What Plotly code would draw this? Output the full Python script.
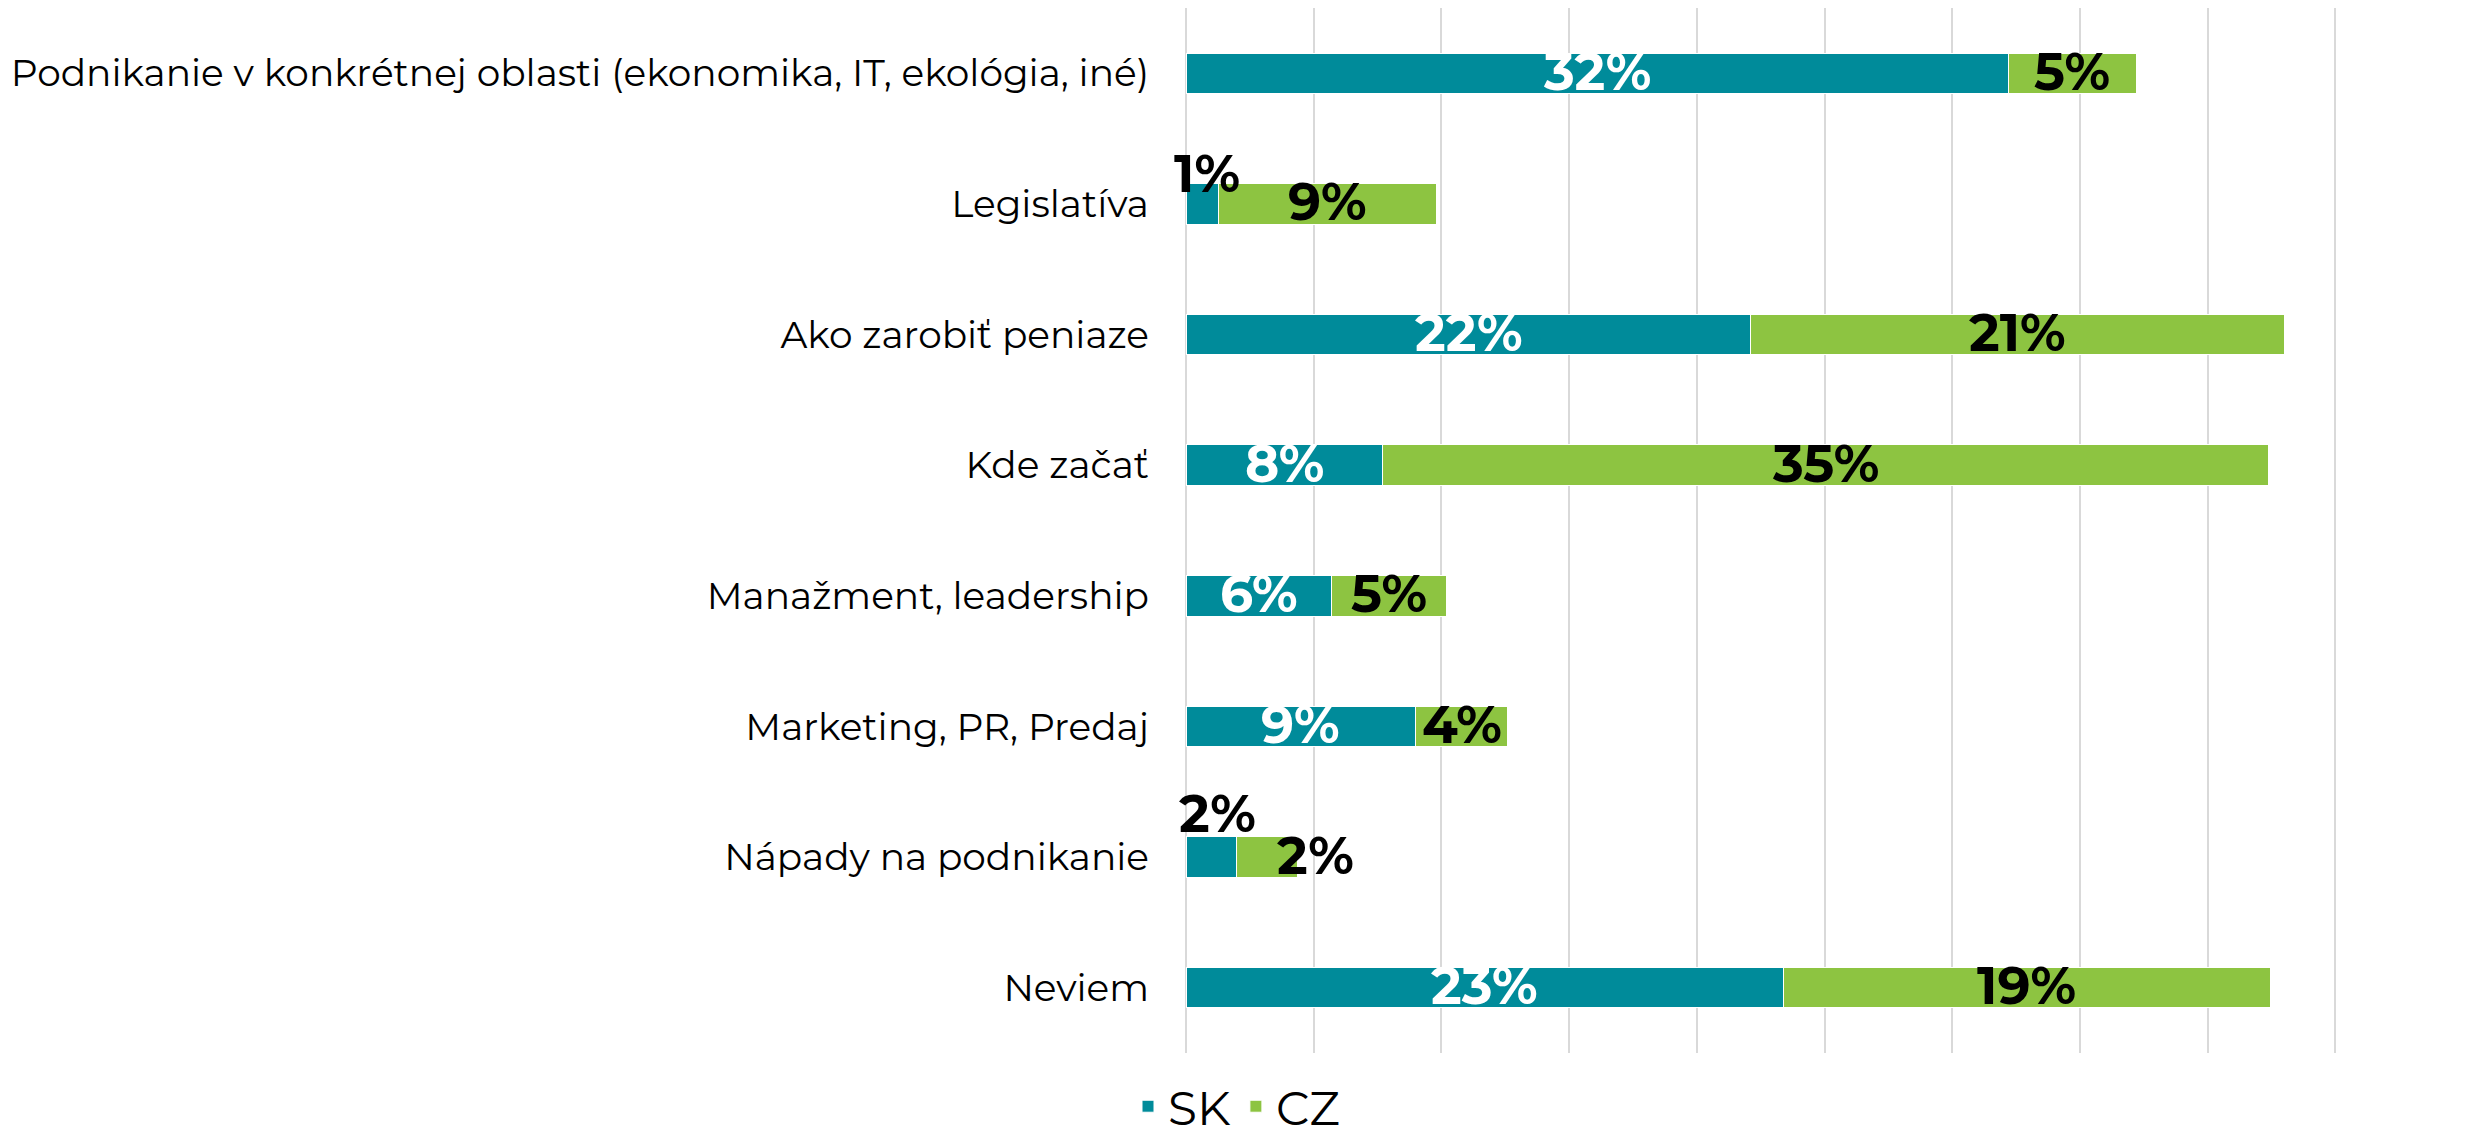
import plotly.graph_objects as go

categories = [
    "Podnikanie v konkrétnej oblasti (ekonomika, IT, ekológia, iné)",
    "Legislatíva",
    "Ako zarobiť peniaze",
    "Kde začať",
    "Manažment, leadership",
    "Marketing, PR, Predaj",
    "Nápady na podnikanie",
    "Neviem",
]
sk_values = [32.2, 1.26, 22.1, 7.7, 5.7, 9.0, 1.96, 23.4]
cz_values = [5.02, 8.53, 20.9, 34.7, 4.51, 3.6, 2.4, 19.05]

SK_COLOR = "#008B9A"
CZ_COLOR = "#8DC441"
FONT = "Montserrat, Inter, sans-serif"

# labels that sit off-centre in the original (xshift, yshift in px)
label_offsets = {
    ("SK", 1): (5, 28),
    ("SK", 6): (6, 42),
    ("CZ", 6): (49, 0),
}

fig = go.Figure()
fig.add_trace(
    go.Bar(
        y=categories,
        x=sk_values,
        name="SK",
        orientation="h",
        marker_color=SK_COLOR,
        marker_line={"color": "white", "width": 1},
    )
)
fig.add_trace(
    go.Bar(
        y=categories,
        x=cz_values,
        name="CZ",
        orientation="h",
        marker_color=CZ_COLOR,
        marker_line={"color": "white", "width": 1},
    )
)

annotations = []
for i, cat in enumerate(categories):
    sk, cz = sk_values[i], cz_values[i]
    for series, xc, val in (("SK", sk / 2, sk), ("CZ", sk + cz / 2, cz)):
        dx, dy = label_offsets.get((series, i), (0, 0))
        color = "white" if series == "SK" and (series, i) not in label_offsets else "black"
        annotations.append(
            dict(
                x=xc,
                y=cat,
                xref="x",
                yref="y",
                text=f"{val:.0f}%",
                showarrow=False,
                xshift=dx,
                yshift=dy + 2,
                font={"family": FONT, "size": 52, "color": color, "weight": "bold"},
            )
        )

# page body has an 8px margin, so the figure is sized/offset to compensate
fig.update_layout(
    barmode="stack",
    bargap=0.69,
    width=2457,
    height=1128,
    paper_bgcolor="white",
    plot_bgcolor="white",
    margin={"l": 1178, "r": 2, "t": 0, "b": 83},
    font={"family": FONT, "color": "black"},
    xaxis={
        "range": [0, 50],
        "dtick": 5,
        "showgrid": True,
        "gridcolor": "#D9D9D9",
        "gridwidth": 2,
        "showticklabels": False,
        "zeroline": True,
        "zerolinecolor": "#D9D9D9",
        "zerolinewidth": 2,
        "showline": False,
        "fixedrange": True,
    },
    yaxis={
        "autorange": "reversed",
        "showgrid": False,
        "ticks": "",
        "ticklabelstandoff": 36,
        "tickfont": {"family": FONT, "size": 37.5, "color": "black"},
        "showline": False,
    },
    legend={
        "orientation": "h",
        "xref": "container",
        "yref": "container",
        "x": 0.5,
        "xanchor": "center",
        "y": 0.026,
        "yanchor": "middle",
        "font": {"family": FONT, "size": 47, "color": "black"},
        "traceorder": "normal",
    },
    annotations=annotations,
    showlegend=True,
)

fig.write_html("out.html")
